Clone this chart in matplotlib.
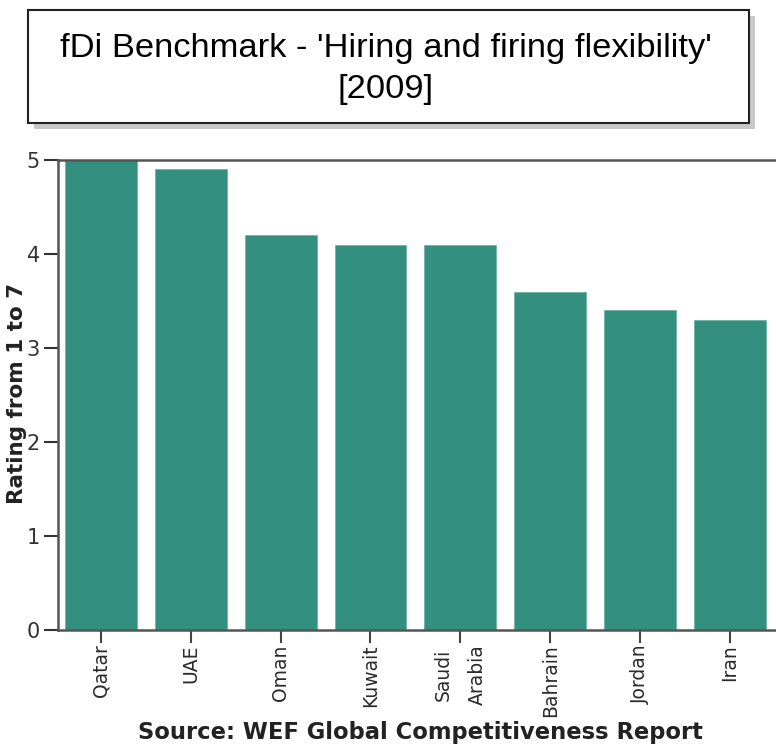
import numpy as np
import matplotlib.pyplot as plt
from matplotlib.patches import Rectangle

countries = ['Qatar', 'UAE', 'Oman', 'Kuwait', 'Saudi\nArabia', 'Bahrain', 'Jordan', 'Iran']
ratings = [5.0, 4.9, 4.2, 4.1, 4.1, 3.6, 3.4, 3.3]
yticks = [0, 1, 2, 3, 4, 5]

W, H = 776, 745
fig = plt.figure(figsize=(W / 100, H / 100), dpi=100)

# title box with drop shadow
shadow = Rectangle((34 / W, 1 - 129 / H), 721 / W, 113 / H, transform=fig.transFigure,
                   facecolor='#c8c8c8', edgecolor='none', zorder=0)
box = Rectangle((28 / W, 1 - 123 / H), 721 / W, 113 / H, transform=fig.transFigure,
                facecolor='white', edgecolor='#222222', linewidth=1.5, zorder=1)
fig.patches.extend([shadow, box])
fig.text(386 / W, 1 - 57 / H, "fDi Benchmark - 'Hiring and firing flexibility'",
         ha='center', va='baseline', fontsize=24.8, family='Liberation Sans', zorder=2)
fig.text(386 / W, 1 - 98 / H, "[2009]",
         ha='center', va='baseline', fontsize=24.8, family='Liberation Sans', zorder=2)

ax = fig.add_axes([58 / W, 1 - 630 / H, 1 - 58 / W + 0.01, 470 / H])
x = np.arange(len(countries))
ax.bar(x, ratings, width=0.8, color='#33907f', edgecolor='#6fb3a6', linewidth=0.6)
ax.set_xlim(-0.478, 7.6)
ax.set_ylim(0, 5)
ax.set_yticks(yticks)
ax.set_xticks(x)
ax.set_xticklabels(countries, rotation=90, fontsize=13.5, family='DejaVu Sans',
                   color='#2a2a2a', linespacing=1.95)
ax.tick_params(axis='y', labelsize=15, colors='#333333', length=10, width=1.5, pad=3)
ax.tick_params(axis='x', length=9, width=1.5, colors='#444444', labelcolor='#2a2a2a', pad=1.5)
for s in ['left', 'top', 'bottom']:
    ax.spines[s].set_color('#555555')
    ax.spines[s].set_linewidth(1.8)
ax.spines['right'].set_visible(False)

fig.text(17 / W, 1 - 393 / H, 'Rating from 1 to 7', rotation=90, ha='center', va='center',
         fontsize=15.5, fontweight='bold', family='DejaVu Sans', color='#222222')
fig.text(420 / W, 1 - 732 / H, 'Source: WEF Global Competitiveness Report',
         ha='center', va='center', fontsize=16.3, fontweight='bold', family='DejaVu Sans',
         color='#222222')

fig.savefig('out.png', dpi=100)
